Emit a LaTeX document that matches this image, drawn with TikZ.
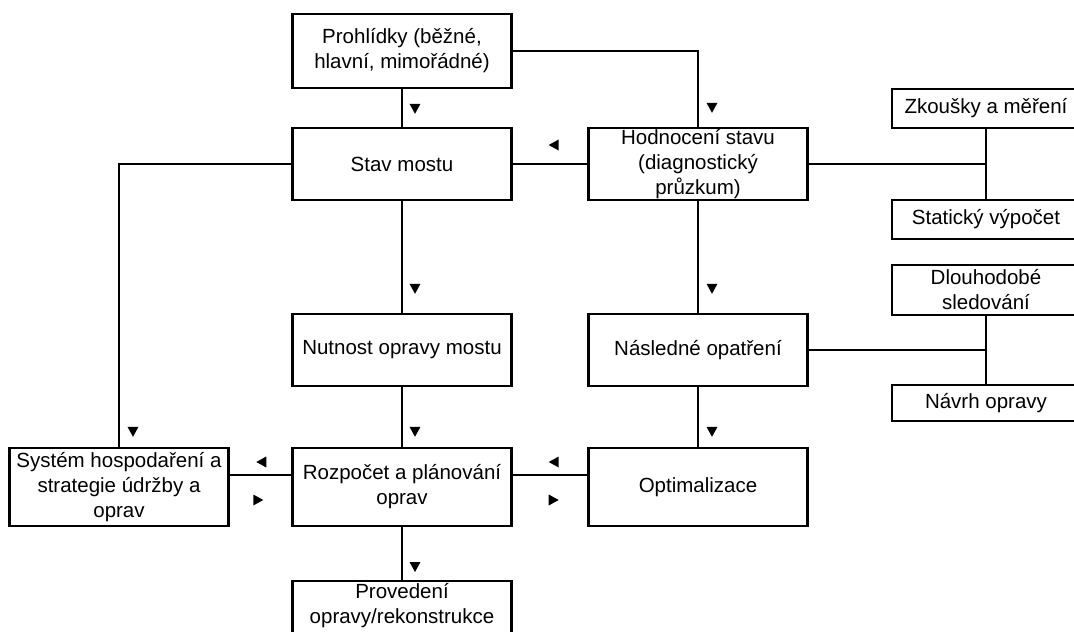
\documentclass[tikz,border=0pt]{standalone}
\usepackage{fontspec}
\setmainfont{Liberation Sans}

\tikzstyle{box} = [align=center,draw=black,line width=2.4pt,rectangle,text centered,minimum width=219pt,minimum height=72pt,inner sep=2pt,font=\fontsize{20.5}{25}\selectfont]
\tikzstyle{side} = [box,minimum width=188pt]
\tikzstyle{link} = [line width=2.4pt]
\tikzset{tri/.pic={\fill (-5.5pt,5pt) -- (5.5pt,5pt) -- (0pt,-5pt) -- cycle;}}

\begin{document}
\begin{tikzpicture}
	\path [use as bounding box,clip] (-402pt,51pt) rectangle (672pt,-581pt);
	\node (prohlidky) [box,minimum height=74pt] {Prohlídky (běžné,\\hlavní, mimořádné)};
	\node (stav) [box,below of=prohlidky,node distance=113pt] {Stav mostu};
	\node (hodnoceni) [box,right of=stav,node distance=296pt,inner ysep=0pt,text height=66pt,text depth=6pt] {Hodnocení stavu\\(diagnostický\\průzkum)};
	\node (nutnost) [box,below of=stav,node distance=186pt] {Nutnost opravy mostu};
	\node (nasledne) [box,right of=nutnost,node distance=296pt] {Následné opatření};
	\node (rozpocet) [box,below of=nutnost,node distance=137pt,minimum height=78pt] {Rozpočet a plánování\\oprav};
	\node (optimalizace) [box,right of=rozpocet,node distance=296pt,minimum height=78pt] {Optimalizace};
	\node (system) [box,left of=rozpocet,node distance=283pt,minimum height=78pt] {Systém hospodaření a\\strategie údržby a\\oprav};
	\node (provedeni) [box,below of=rozpocet,node distance=93pt,anchor=north,minimum height=0pt,inner ysep=1pt,text height=41pt,text depth=45pt] {Provedení\\opravy/rekonstrukce};
	\node (zkousky) [side,right of=hodnoceni,node distance=288pt,yshift=55.5pt,minimum height=39pt] {Zkoušky a měření};
	\node (staticky) [side,below of=zkousky,node distance=111pt,minimum height=39pt] {Statický výpočet};
	\node (dlouhodobe) [side,below of=staticky,node distance=70.5pt,minimum height=50pt] {Dlouhodobé\\sledování};
	\node (navrh) [side,below of=dlouhodobe,node distance=113pt,minimum height=36pt] {Návrh opravy};
	\draw [link] (prohlidky) -- (stav);
	\draw [link] (prohlidky.east) -| (hodnoceni.north);
	\draw [link] (hodnoceni) -- (stav);
	\draw [link] (stav.west) -| (system.north);
	\draw [link] (stav) -- (nutnost);
	\draw [link] (nutnost) -- (rozpocet);
	\draw [link] (hodnoceni) -- (nasledne);
	\draw [link] (nasledne) -- (optimalizace);
	\draw [link] ([yshift=12pt]system.east) -- ([yshift=12pt]rozpocet.west);
	\draw [link] ([yshift=12pt]rozpocet.east) -- ([yshift=12pt]optimalizace.west);
	\draw [link] (rozpocet) -- (provedeni);
	\draw [link] (hodnoceni.east) -- (hodnoceni.east -| zkousky.south);
	\draw [link] (zkousky) -- (staticky);
	\draw [link] (nasledne.east) -- (nasledne.east -| dlouhodobe.south);
	\draw [link] (dlouhodobe) -- (navrh);
	% arrow marks beside the lines
	\path (stav.north) ++(13pt,18pt) pic {tri};
	\path (hodnoceni.north) ++(14pt,19pt) pic {tri};
	\path (stav.east) ++(41pt,19pt) pic[rotate=-90] {tri};
	\path (nutnost.north) ++(13pt,24pt) pic {tri};
	\path (nasledne.north) ++(14pt,24pt) pic {tri};
	\path (system.north) ++(14pt,15pt) pic {tri};
	\path (rozpocet.north) ++(13pt,15pt) pic {tri};
	\path (optimalizace.north) ++(14pt,15pt) pic {tri};
	\path (rozpocet.west) ++(-30pt,25pt) pic[rotate=-90] {tri};
	\path (rozpocet.west) ++(-33pt,-13pt) pic[rotate=90] {tri};
	\path (rozpocet.east) ++(41pt,25pt) pic[rotate=-90] {tri};
	\path (rozpocet.east) ++(41pt,-13pt) pic[rotate=90] {tri};
	\path (provedeni.north) ++(13pt,13pt) pic {tri};
\end{tikzpicture}
\end{document}
